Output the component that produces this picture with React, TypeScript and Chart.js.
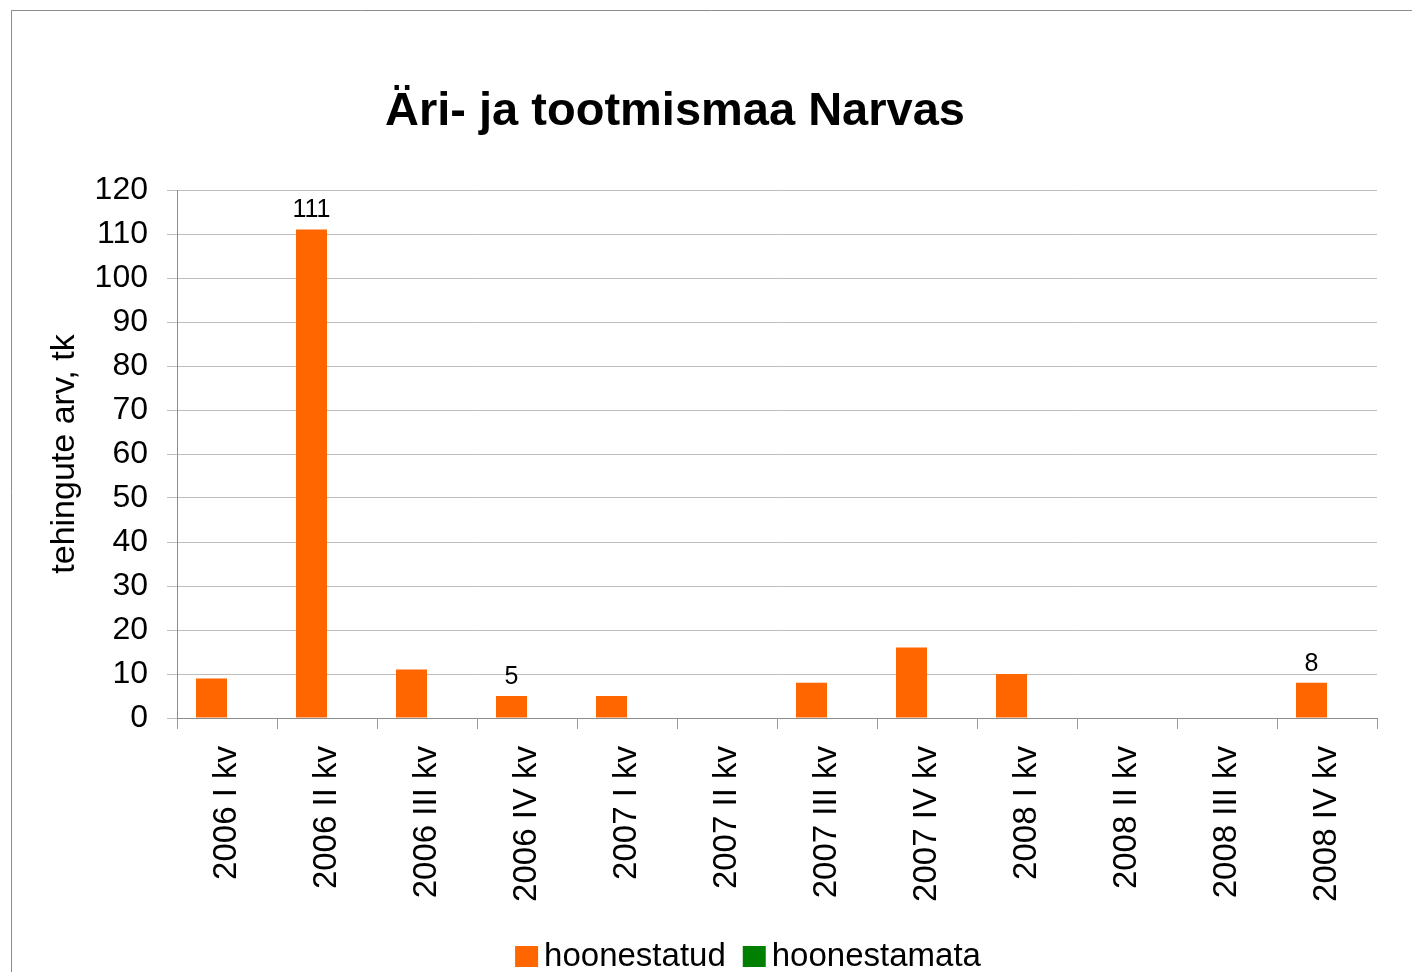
import React, { useEffect, useRef } from "react";
import { Chart, registerables } from "chart.js";

Chart.register(...registerables);

const categories = [
  "2006 I kv", "2006 II kv", "2006 III kv", "2006 IV kv",
  "2007 I kv", "2007 II kv", "2007 III kv", "2007 IV kv",
  "2008 I kv", "2008 II kv", "2008 III kv", "2008 IV kv",
];
const hoonestatud = [9, 111, 11, 5, 5, 0, 8, 16, 10, 0, 0, 8];
const hoonestamata = [0, 0, 0, 0, 0, 0, 0, 0, 0, 0, 0, 0];
const labelledIndices = [1, 3, 11];
const yTicksMax = 120;
const yTicksStep = 10;

const chartTitle = "Äri- ja tootmismaa Narvas";
const yTitle = "tehingute arv, tk";
const seriesNames = ["hoonestatud", "hoonestamata"];
const seriesColors = ["#FF6600", "#008000"];

const FONT = "'Liberation Sans', Arial, sans-serif";

const framePlugin = {
  id: "frame",
  beforeDraw(chart: any) {
    const ctx = chart.ctx;
    ctx.save();
    ctx.fillStyle = "#ffffff";
    ctx.fillRect(0, 0, chart.width, chart.height);
    ctx.strokeStyle = "#8c8c8c";
    ctx.lineWidth = 1;
    ctx.beginPath();
    ctx.moveTo(11.5, chart.height);
    ctx.lineTo(11.5, 10.5);
    ctx.lineTo(chart.width, 10.5);
    ctx.stroke();
    ctx.restore();
  },
};

const titlePlugin = {
  id: "customTitle",
  afterDraw(chart: any) {
    const ctx = chart.ctx;
    ctx.save();
    ctx.fillStyle = "#000";
    ctx.font = `bold 47px ${FONT}`;
    ctx.textAlign = "center";
    ctx.textBaseline = "middle";
    ctx.fillText(chartTitle, 675, 112);
    ctx.restore();
  },
};

const dataLabelPlugin = {
  id: "dataLabels",
  afterDatasetsDraw(chart: any) {
    const ctx = chart.ctx;
    const meta = chart.getDatasetMeta(0);
    ctx.save();
    ctx.fillStyle = "#000";
    ctx.font = `25px ${FONT}`;
    ctx.textAlign = "center";
    ctx.textBaseline = "middle";
    labelledIndices.forEach((i) => {
      const el = meta.data[i];
      if (!el) return;
      ctx.fillText(String(hoonestatud[i]), el.x, el.y - 19);
    });
    ctx.restore();
  },
};

const legendPlugin = {
  id: "customLegend",
  afterDraw(chart: any) {
    const ctx = chart.ctx;
    ctx.save();
    ctx.font = `33px ${FONT}`;
    ctx.textBaseline = "alphabetic";
    ctx.textAlign = "left";
    const box = 23;
    const boxGap = 6;
    const itemGap = 17;
    const ds = chart.data.datasets;
    const widths = ds.map((d: any) => box + boxGap + ctx.measureText(d.label).width);
    const total = widths.reduce((a: number, b: number) => a + b, 0) + itemGap * (ds.length - 1);
    let x = 748 - total / 2;
    const baseline = 966;
    ds.forEach((d: any, i: number) => {
      ctx.fillStyle = d.backgroundColor;
      ctx.fillRect(x, 946, box, 21);
      ctx.fillStyle = "#000";
      ctx.fillText(d.label, x + box + boxGap, baseline);
      x += widths[i] + itemGap;
    });
    ctx.restore();
  },
};

export default function App() {
  const ref = useRef<HTMLCanvasElement | null>(null);

  useEffect(() => {
    if (!ref.current) return;
    const chart = new Chart(ref.current, {
      type: "bar",
      data: {
        labels: categories,
        datasets: [
          {
            label: seriesNames[0],
            data: hoonestatud,
            backgroundColor: seriesColors[0],
            borderWidth: 0,
            barPercentage: 1,
            categoryPercentage: 0.62,
          },
          {
            label: seriesNames[1],
            data: hoonestamata,
            backgroundColor: seriesColors[1],
            borderWidth: 0,
            barPercentage: 1,
            categoryPercentage: 0.62,
          },
        ],
      },
      options: {
        responsive: false,
        animation: false,
        devicePixelRatio: 1,
        layout: { padding: { top: 190, right: 35, left: 0, bottom: 0 } },
        plugins: {
          legend: { display: false },
          title: { display: false },
          tooltip: { enabled: false },
        },
        scales: {
          x: {
            afterFit: (scale: any) => {
              scale.height = 254;
            },
            grid: {
              display: true,
              drawOnChartArea: false,
              drawTicks: true,
              tickLength: 11,
              offset: true,
              color: "#9a9a9a",
            },
            border: { display: true, color: "#8c8c8c", width: 1 },
            ticks: {
              autoSkip: false,
              minRotation: 90,
              maxRotation: 90,
              padding: 17,
              color: "#000",
              font: { family: FONT, size: 33 },
            },
          },
          y: {
            min: 0,
            max: yTicksMax,
            afterFit: (scale: any) => {
              scale.width = 177;
            },
            grid: {
              color: "#bdbdbd",
              drawTicks: true,
              tickLength: 10,
            },
            border: { display: true, color: "#8c8c8c", width: 1 },
            ticks: {
              stepSize: yTicksStep,
              padding: 19,
              color: "#000",
              font: { family: FONT, size: 32 },
            },
            title: {
              display: true,
              text: yTitle,
              color: "#000",
              font: { family: FONT, size: 34 },
              padding: { top: 44, bottom: 0 },
            },
          },
        },
      },
      plugins: [framePlugin, titlePlugin, dataLabelPlugin, legendPlugin],
    } as any);
    return () => chart.destroy();
  }, []);

  return (
    <div style={{ position: "absolute", left: 0, top: 0, width: 1412, height: 972 }}>
      <canvas ref={ref} width={1412} height={972} style={{ display: "block", width: 1412, height: 972 }} />
    </div>
  );
}
